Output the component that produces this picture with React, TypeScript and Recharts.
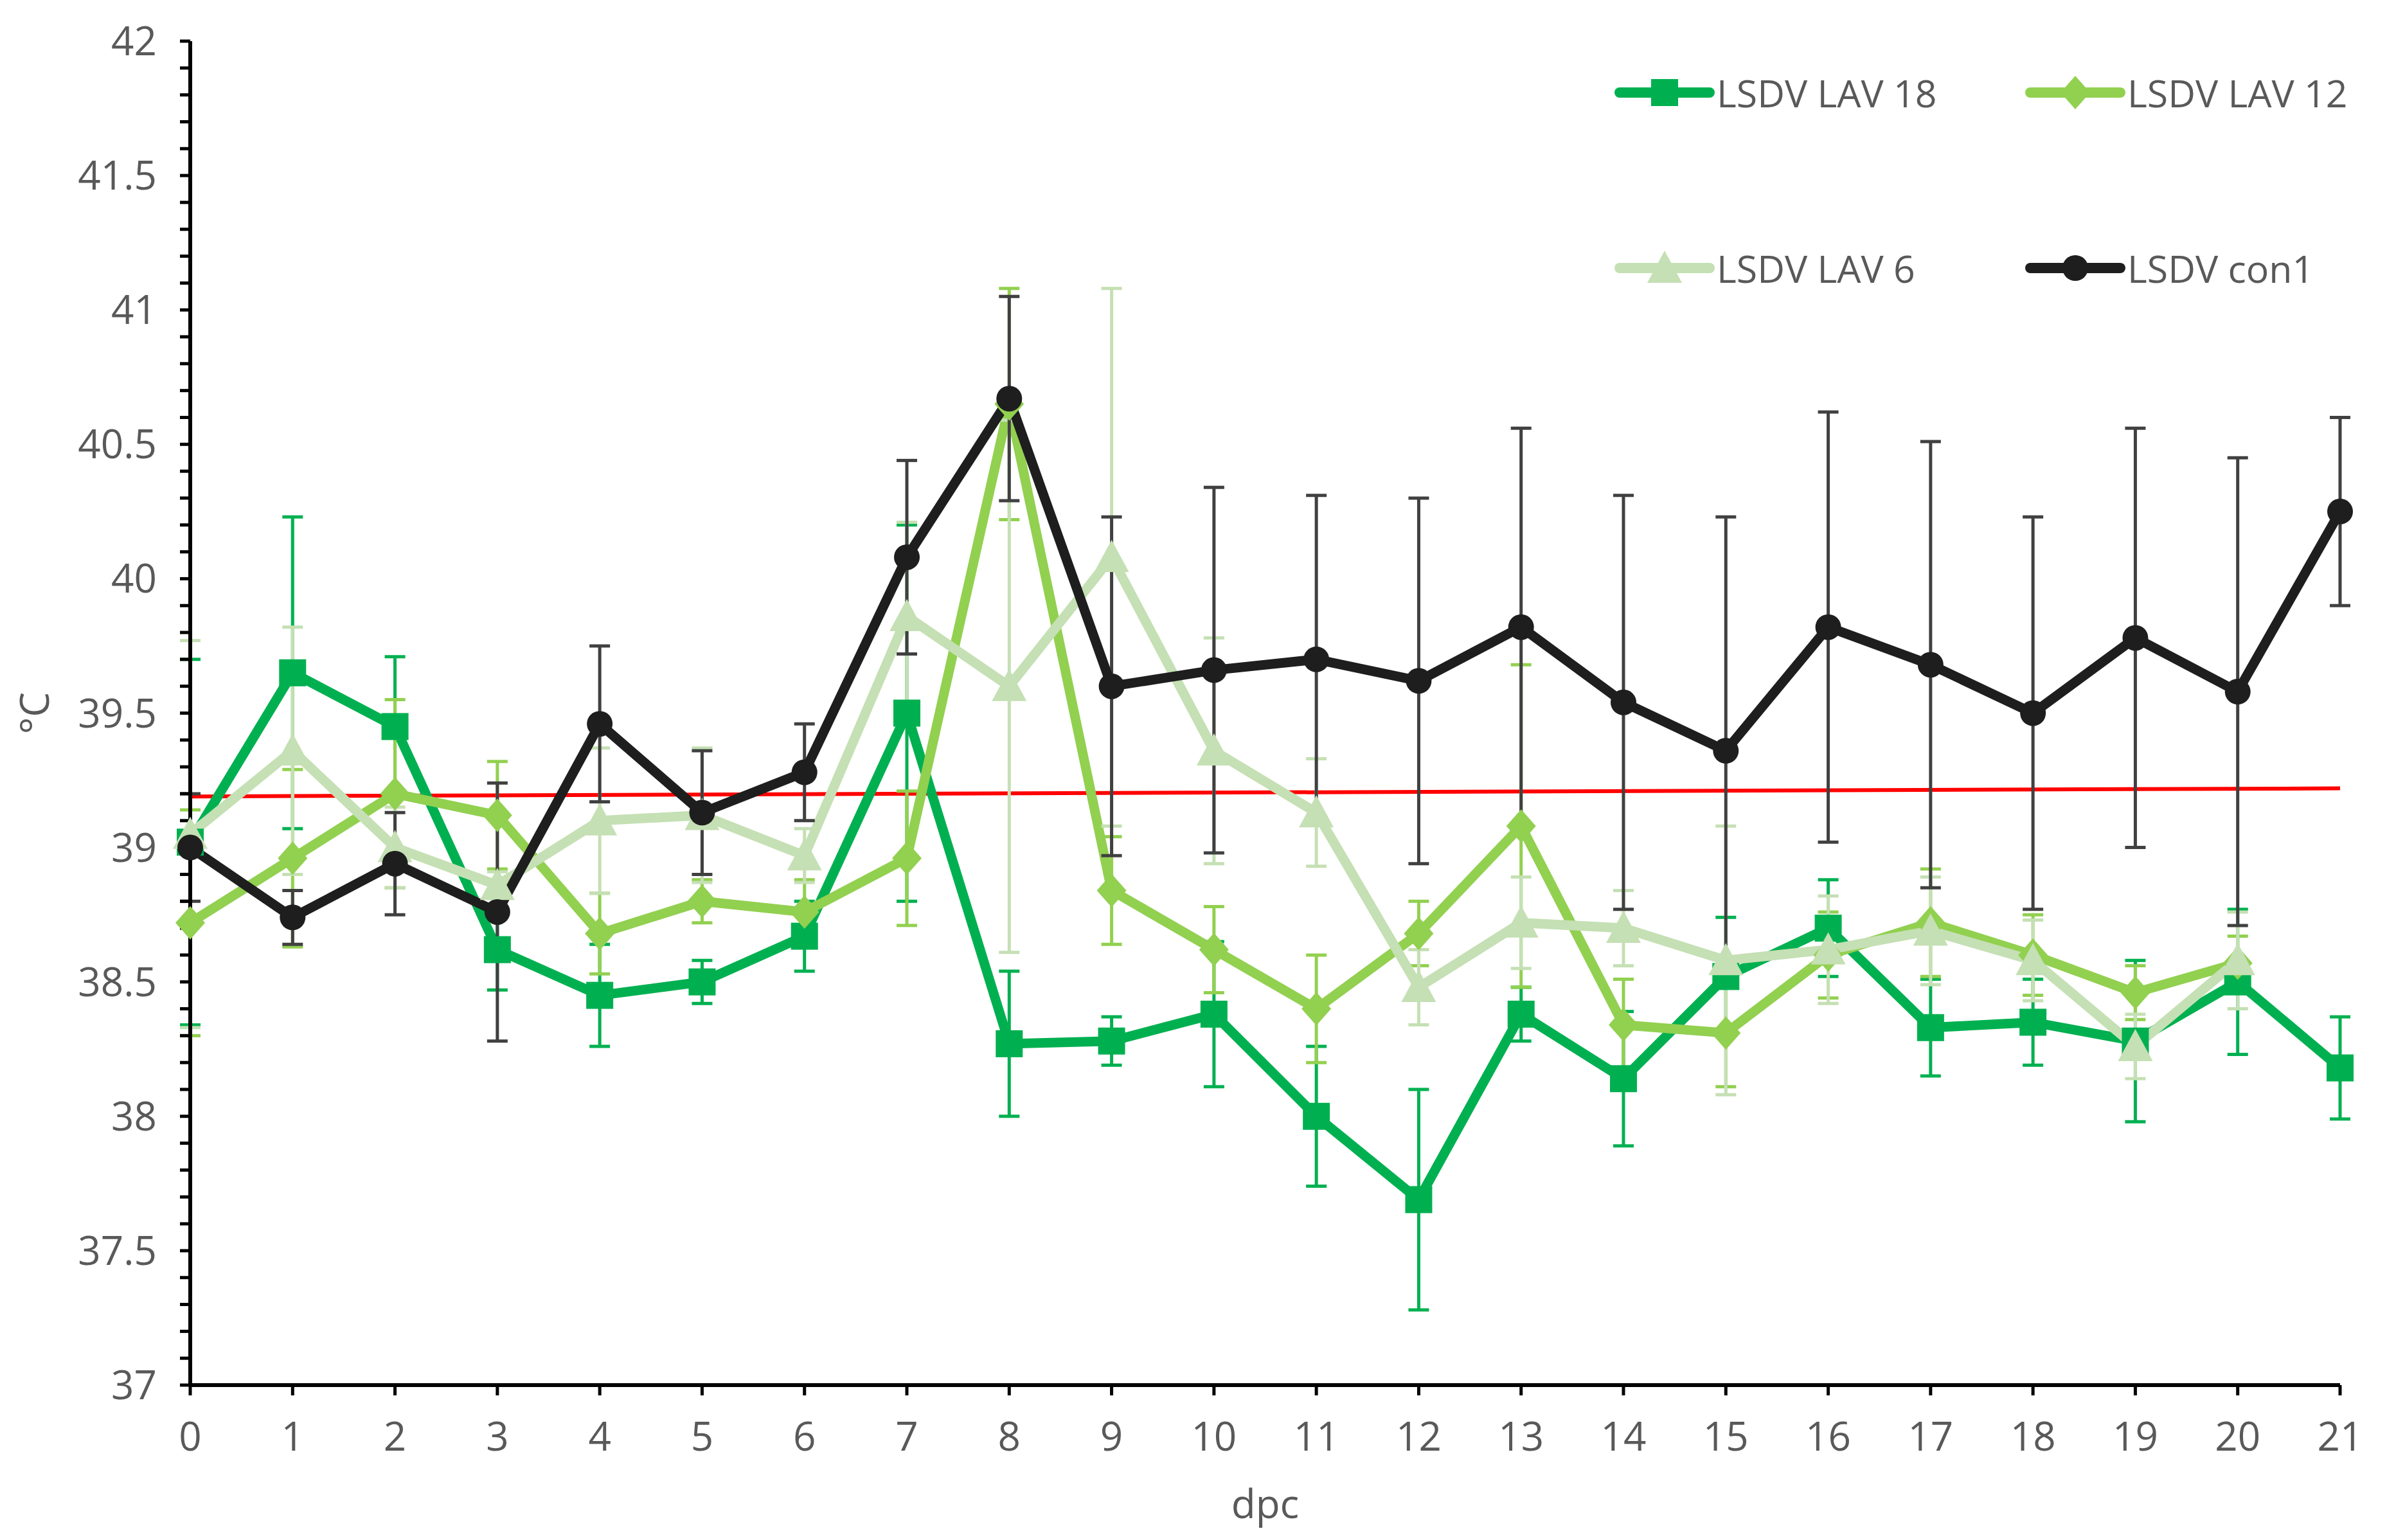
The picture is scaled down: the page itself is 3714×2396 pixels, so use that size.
import React from 'react';
import { LineChart, Line, XAxis, YAxis, ErrorBar, ReferenceLine, Legend, Label } from 'recharts';

const days = [0, 1, 2, 3, 4, 5, 6, 7, 8, 9, 10, 11, 12, 13, 14, 15, 16, 17, 18, 19, 20, 21];

const lav18 = [39.02, 39.65, 39.45, 38.62, 38.45, 38.5, 38.67, 39.5, 38.27, 38.28, 38.38, 38.0, 37.69, 38.38, 38.14, 38.52, 38.7, 38.33, 38.35, 38.28, 38.5, 38.18];
const lav18Err = [0.68, 0.58, 0.26, 0.15, 0.19, 0.08, 0.13, 0.7, 0.27, 0.09, 0.27, 0.26, 0.41, 0.1, 0.25, 0.22, 0.18, 0.18, 0.16, 0.3, 0.27, 0.19];

const lav12 = [38.72, 38.96, 39.2, 39.12, 38.68, 38.8, 38.76, 38.96, 40.65, 38.84, 38.62, 38.4, 38.68, 39.08, 38.34, 38.31, 38.6, 38.72, 38.6, 38.46, 38.57, null];
const lav12Err = [0.42, 0.33, 0.35, 0.2, 0.15, 0.08, 0.12, 0.25, 0.43, 0.2, 0.16, 0.2, 0.12, 0.6, 0.17, 0.2, 0.16, 0.2, 0.15, 0.1, 0.1, null];

const lav6 = [39.05, 39.36, 39.0, 38.86, 39.1, 39.12, 38.97, 39.86, 39.6, 40.08, 39.36, 39.13, 38.48, 38.72, 38.7, 38.58, 38.62, 38.69, 38.58, 38.26, 38.58, null];
const lav6Err = [0.72, 0.46, 0.15, 0.05, 0.27, 0.25, 0.1, 0.35, 0.99, 1.0, 0.42, 0.2, 0.14, 0.17, 0.14, 0.5, 0.2, 0.2, 0.15, 0.12, 0.18, null];

const con1 = [39.0, 38.74, 38.94, 38.76, 39.46, 39.13, 39.28, 40.08, 40.67, 39.6, 39.66, 39.7, 39.62, 39.82, 39.54, 39.36, 39.82, 39.68, 39.5, 39.78, 39.58, 40.25];
const con1Err = [0.2, 0.1, 0.19, 0.48, 0.29, 0.23, 0.18, 0.36, 0.38, 0.63, 0.68, 0.61, 0.68, 0.74, 0.77, 0.87, 0.8, 0.83, 0.73, 0.78, 0.87, 0.35];

const thresholdStart = 39.19;
const thresholdEnd = 39.22;

const yLabelTicks = [37, 37.5, 38, 38.5, 39, 39.5, 40, 40.5, 41, 41.5, 42];
const yTicks = Array.from({ length: 51 }, (_, i) => Math.round((37 + i * 0.1) * 10) / 10);

const seriesNames = ['LSDV LAV 18', 'LSDV LAV 12', 'LSDV LAV 6', 'LSDV con1'];

const data = days.map((d, i) => ({
  day: d,
  lav18: lav18[i],
  lav18Err: lav18Err[i],
  lav12: lav12[i],
  lav12Err: lav12Err[i],
  lav6: lav6[i],
  lav6Err: lav6Err[i],
  con1: con1[i],
  con1Err: con1Err[i],
}));

const FONT = '"Open Sans", sans-serif';
const TEXT = '#595959';
const C18 = '#00B050';
const C12 = '#92D050';
const C6 = '#C5E0B4';
const CCON = '#1E1E1E';

type Shape = 'square' | 'diamond' | 'triangle' | 'circle';

const Marker = ({ cx, cy, shape, color }: { cx: number; cy: number; shape: Shape; color: string }) => {
  if (shape === 'square') return <rect x={cx - 21} y={cy - 21} width={42} height={42} fill={color} />;
  if (shape === 'diamond') return <polygon points={`${cx},${cy - 26} ${cx + 23},${cy} ${cx},${cy + 26} ${cx - 23},${cy}`} fill={color} />;
  if (shape === 'triangle') return <polygon points={`${cx},${cy - 27} ${cx + 27},${cy + 23} ${cx - 27},${cy + 23}`} fill={color} />;
  return <circle cx={cx} cy={cy} r={20} fill={color} />;
};

const makeDot = (shape: Shape, color: string) => (p: any) => {
  if (p.cx == null || p.cy == null || p.value == null) return <g key={`e-${p.index}`} />;
  return <Marker key={`m-${p.index}`} cx={p.cx} cy={p.cy} shape={shape} color={color} />;
};

const legendItems = [
  { name: seriesNames[0], color: C18, shape: 'square' as Shape, left: 2511, top: 144 },
  { name: seriesNames[1], color: C12, shape: 'diamond' as Shape, left: 3150, top: 144 },
  { name: seriesNames[2], color: C6, shape: 'triangle' as Shape, left: 2511, top: 417 },
  { name: seriesNames[3], color: CCON, shape: 'circle' as Shape, left: 3150, top: 417 },
];

const renderLegend = () => (
  <div style={{ position: 'relative', width: 0, height: 0 }}>
    {legendItems.map((it) => (
      <div
        key={it.name}
        style={{ position: 'absolute', left: it.left, top: it.top - 40, height: 80, display: 'flex', alignItems: 'center', whiteSpace: 'nowrap' }}
      >
        <svg width={158} height={80}>
          <line x1={9} y1={40} x2={149} y2={40} stroke={it.color} strokeWidth={16} strokeLinecap="round" />
          <Marker cx={79} cy={40} shape={it.shape} color={it.color} />
        </svg>
        <span style={{ fontFamily: FONT, fontSize: 59, color: TEXT, marginLeft: 2 }}>{it.name}</span>
      </div>
    ))}
  </div>
);

export default function App() {
  return (
    <div style={{ position: 'absolute', left: 0, top: 0, width: 3714, height: 2396, background: '#fff' }}>
      <LineChart width={3714} height={2396} data={data} margin={{ top: 64, right: 73, left: 96, bottom: 141 }}>
        <XAxis
          dataKey="day"
          type="number"
          domain={[0, 21]}
          ticks={days}
          interval={0}
          height={100}
          tickSize={16}
          tickMargin={42}
          axisLine={{ stroke: '#000', strokeWidth: 6 }}
          tickLine={{ stroke: '#000', strokeWidth: 5 }}
          tick={{ fill: TEXT, fontSize: 62, fontFamily: FONT }}
        >
          <Label
            content={({ viewBox }: any) => (
              <text x={viewBox.x + viewBox.width / 2} y={2345} textAnchor="middle" dominantBaseline="middle" fill={TEXT} fontSize={62} fontFamily={FONT}>
                dpc
              </text>
            )}
          />
        </XAxis>
        <YAxis
          type="number"
          domain={[37, 42]}
          ticks={yTicks}
          interval={0}
          width={200}
          tickSize={16}
          tickMargin={36}
          allowDataOverflow
          axisLine={{ stroke: '#000', strokeWidth: 6 }}
          tickLine={{ stroke: '#000', strokeWidth: 5 }}
          tick={{ fill: TEXT, fontSize: 62, fontFamily: FONT }}
          tickFormatter={(v: number) => (yLabelTicks.includes(Math.round(v * 10) / 10) ? String(Math.round(v * 10) / 10) : '')}
        >
          <Label
            content={({ viewBox }: any) => (
              <text
                x={59}
                y={viewBox.y + viewBox.height / 2}
                textAnchor="middle"
                dominantBaseline="middle"
                fill={TEXT}
                fontSize={62}
                fontFamily={FONT}
                transform={`rotate(-90, 59, ${viewBox.y + viewBox.height / 2})`}
              >
                °C
              </text>
            )}
          />
        </YAxis>
        <ReferenceLine
          segment={[
            { x: 0, y: thresholdStart },
            { x: 21, y: thresholdEnd },
          ]}
          stroke="#FF0000"
          strokeWidth={6}
        />
        <Line dataKey="lav18" name={seriesNames[0]} stroke={C18} strokeWidth={15} dot={makeDot('square', C18)} activeDot={false} isAnimationActive={false}>
          <ErrorBar dataKey="lav18Err" direction="y" width={16} stroke={C18} strokeWidth={5} />
        </Line>
        <Line dataKey="lav12" name={seriesNames[1]} stroke={C12} strokeWidth={15} dot={makeDot('diamond', C12)} activeDot={false} isAnimationActive={false}>
          <ErrorBar dataKey="lav12Err" direction="y" width={16} stroke={C12} strokeWidth={5} />
        </Line>
        <Line dataKey="lav6" name={seriesNames[2]} stroke={C6} strokeWidth={15} dot={makeDot('triangle', C6)} activeDot={false} isAnimationActive={false}>
          <ErrorBar dataKey="lav6Err" direction="y" width={16} stroke={C6} strokeWidth={5} />
        </Line>
        <Line dataKey="con1" name={seriesNames[3]} stroke={CCON} strokeWidth={15} dot={makeDot('circle', CCON)} activeDot={false} isAnimationActive={false}>
          <ErrorBar dataKey="con1Err" direction="y" width={16} stroke="#404040" strokeWidth={5} />
        </Line>
        <Legend
          layout="vertical"
          align="center"
          verticalAlign="middle"
          content={renderLegend}
          wrapperStyle={{ position: 'absolute', left: 0, top: 0, width: 0, height: 0 }}
        />
      </LineChart>
    </div>
  );
}
